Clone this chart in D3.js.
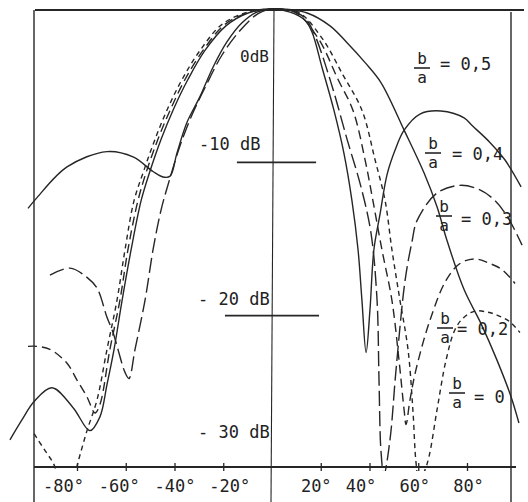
<!DOCTYPE html>
<html>
<head>
<meta charset="utf-8">
<script src="https://cdn.jsdelivr.net/npm/d3@7"></script>
<style>
  body { margin: 0; background: #fff; }
  text { font-family: "DejaVu Sans Mono", monospace; fill: #222; }
</style>
</head>
<body>
<div class="canvas"></div>
<script>
// radiation patterns, [angle in degrees, level in dB]
const ba0 = [[-107.5,-28.1],[-102.6,-26.8],[-97.6,-25.6],[-90.3,-24.7],[-81.6,-26.0],[-74.7,-27.5],
  [-70.6,-26.6],[-67.7,-24.5],[-64.8,-22.2],[-61.5,-19.0],[-57.8,-15.7],[-53.7,-12.5],[-50.1,-10.6],
  [-45.5,-8.5],[-40.6,-6.6],[-34.5,-4.6],[-27.5,-2.7],[-18.9,-1.1],[-9.8,-0.26],[0,0],[7.4,-0.07],
  [14.4,-0.26],[23.8,-1.1],[30.8,-2.2],[38.2,-3.5],[44.7,-4.8],[54.2,-7.9],[62.4,-10.7],[67.7,-12.9],
  [71.8,-15.1],[78.8,-18.3],[85.7,-20.5],[92.3,-22.9],[98.1,-25.3],[101.3,-27.0]];

const ba05 = [[-100.1,-13.0],[-96.4,-12.3],[-84.1,-10.3],[-67.7,-9.3],[-57,-9.65],[-48.8,-10.6],
  [-44.7,-10.96],[-41.8,-10.9],[-39,-9.4],[-34.9,-7.4],[-29.5,-5.7],[-24.2,-3.8],[-18.5,-2.15],
  [-12.3,-0.9],[-6.2,-0.2],[0,0],[7.4,-0.2],[13.5,-0.72],[16.4,-1.5],[20.5,-3.8],[25.4,-6.6],
  [29.5,-9.4],[32.8,-12.5],[35.3,-15.7],[36.9,-19.0],[38.6,-22.4],[40.2,-19.6],[41.8,-15.7],
  [44.3,-13.4],[47.2,-10.8],[50.5,-9.2],[54.2,-7.9],[60.7,-6.85],[69.3,-6.65],[78.8,-7.1],
  [82.1,-7.6],[89.4,-8.7],[95.6,-9.85],[102.2,-11.6]];

const ba04 = [[-91.1,-17.35],[-82.9,-16.9],[-75.9,-17.5],[-71.8,-18.2],[-67.7,-20.1],[-65.2,-21.1],
  [-63.2,-22.2],[-60.3,-23.7],[-58.7,-24.1],[-56.2,-22.2],[-52.1,-19.0],[-48.8,-15.7],[-45.5,-13.1],
  [-41.8,-11.0],[-37.7,-8.9],[-32.8,-6.9],[-27.1,-5.0],[-20.5,-3.0],[-13.1,-1.4],[-5.7,-0.3],[0,0],
  [8.2,-0.13],[13.5,-0.59],[17.2,-1.57],[24.2,-4.8],[30.8,-8.5],[36.5,-11.6],[40.6,-14.6],
  [43.1,-19.0],[43.9,-24.2],[44.7,-28.8],[45.9,-30.4],[48.4,-28.1],[50.9,-23.5],[54.6,-17.7],
  [57.4,-15.2],[59.5,-13.8],[67.7,-12.0],[77.1,-11.5],[85.3,-11.8],[91.5,-12.5],[96.8,-13.6],
  [102.6,-15.4]];

const ba03 = [[-100.1,-22.0],[-96.4,-22.0],[-91.1,-22.2],[-84.1,-23.1],[-80,-24.2],[-75.9,-25.3],
  [-72.6,-26.35],[-70.6,-25.8],[-66.5,-22.2],[-62.4,-19.0],[-59.1,-15.7],[-55,-12.5],[-51.3,-10.5],
  [-46.8,-8.5],[-41.8,-6.6],[-35.7,-4.6],[-28.3,-2.7],[-19.3,-1.0],[-9,-0.2],[0,0],[9.4,-0.2],
  [18.9,-1.9],[27.1,-4.6],[33.2,-6.6],[38.2,-9.85],[41.4,-12.5],[45.1,-15.7],[49.2,-19.0],
  [52.1,-22.9],[54.2,-26.15],[55,-27.1],[56.6,-25.5],[59.1,-23.5],[64.8,-20.3],[71.4,-17.7],
  [77.1,-16.6],[83.3,-16.3],[89.4,-16.6],[94.4,-17.0],[99.7,-17.9]];

const ba02 = [[-97.6,-27.7],[-96.4,-28.0],[-93.1,-28.8],[-89.8,-29.6],[-87,-30.6],[-83.7,-31.0],
  [-80.8,-30.2],[-78.8,-29.1],[-75.9,-27.5],[-71.8,-25.5],[-67.7,-22.2],[-63.6,-19.0],[-60.3,-15.7],
  [-56.6,-12.5],[-52.5,-10.5],[-48,-8.5],[-43.1,-6.6],[-36.9,-4.6],[-29.5,-2.7],[-20.5,-1.0],
  [-9.8,-0.2],[0,0],[10.7,-0.2],[20.5,-1.9],[29.1,-4.3],[36.9,-6.6],[42.3,-9.85],[46.4,-12.5],
  [49.2,-15.7],[52.5,-19.0],[55.8,-22.2],[57.8,-26.15],[59.1,-29.6],[60.3,-30.7],[62.4,-30.2],
  [64.4,-29.2],[67.7,-26.15],[71.4,-22.9],[75.1,-20.9],[78.8,-20.1],[83.3,-19.7],[88.2,-19.76],
  [92.3,-19.96],[97.6,-20.4],[101.7,-21.1]];

const xTicks = [-80, -60, -40, -20, 20, 40, 60, 80];
const dbLabels = ["0dB", "-10 dB", "- 20 dB", "- 30 dB"];
const dbLabelLevels = [-3.46, -9.2, -19.3, -27.98];
const refLevels = [-10, -20];
const ratioValues = ["0,5", "0,4", "0,3", "0,2", "0"];

// layout
const W = 528, H = 502;
const svg = d3.select(".canvas").append("svg")
    .attr("width", W)
    .attr("height", H);

const x = d3.scaleLinear().domain([-80, 80]).range([77, 467]);
const y = d3.scaleLinear().domain([0, -30]).range([9, 469]);
const ink = "#262626";

svg.append("defs").append("clipPath").attr("id", "clip")
  .append("rect").attr("x", 0).attr("y", 0).attr("width", W).attr("height", 471);

// frame
const frame = svg.append("g").attr("stroke", ink).attr("fill", "none");
frame.append("line").attr("x1", 35).attr("x2", 524).attr("y1", 10).attr("y2", 10).attr("stroke-width", 2);
frame.append("line").attr("x1", 34).attr("x2", 34).attr("y1", 10).attr("y2", H).attr("stroke-width", 1.4);
frame.append("line").attr("x1", 511).attr("x2", 511).attr("y1", 12).attr("y2", H).attr("stroke-width", 1.4);
frame.append("line").attr("x1", x(0) + 2).attr("x2", x(0) - 1).attr("y1", 10).attr("y2", H).attr("stroke-width", 1.1);

// reference lines at -10 and -20 dB
const refSpans = [[-14.4, 18.1], [-19.3, 19.3]];
refLevels.forEach((lv, i) => {
  frame.append("line")
    .attr("x1", x(refSpans[i][0])).attr("x2", x(refSpans[i][1]))
    .attr("y1", y(lv)).attr("y2", y(lv))
    .attr("stroke-width", 1.6);
});

// x axis
const xAxis = d3.axisBottom(x)
    .tickValues(xTicks)
    .tickSize(4)
    .tickPadding(10)
    .tickFormat(d => d + "°");
const xAxisGroup = svg.append("g")
    .attr("transform", `translate(0,${467})`)
    .call(xAxis);
xAxisGroup.select(".domain").remove();
xAxisGroup.append("line")
    .attr("x1", 34).attr("x2", 516).attr("y1", 0).attr("y2", 0)
    .attr("stroke", ink).attr("stroke-width", 1.8);
xAxisGroup.selectAll(".tick line").attr("y1", -4).attr("y2", 4).attr("stroke", ink).attr("stroke-width", 1.3);
const tickNudge = [-14, -7, 0, 6, -5, -9, -4, 1];
xAxisGroup.selectAll(".tick text")
    .attr("dx", (d, i) => tickNudge[i])
    .attr("y", 25)
    .attr("dy", 0)
    .style("font-size", "17px")
    .style("font-family", "DejaVu Sans Mono, monospace")
    .attr("fill", ink);

// level labels
const dbStartX = [240, 199, 198, 198];
svg.selectAll("text.db")
  .data(dbLabels)
  .enter().append("text")
    .attr("class", "db")
    .attr("x", (d, i) => dbStartX[i])
    .attr("y", (d, i) => y(dbLabelLevels[i]))
    .style("font-size", (d, i) => i === 0 ? "16px" : "17px")
    .attr("xml:space", "preserve")
    .text(d => d);

// curves
const line = d3.line()
    .x(d => x(d[0]))
    .y(d => y(d[1]))
    .curve(d3.curveCatmullRom.alpha(0.5));

const curves = [
  { data: ba0,  dash: null },
  { data: ba05, dash: null },
  { data: ba04, dash: "15,5" },
  { data: ba03, dash: "9,5" },
  { data: ba02, dash: "5,4" }
];

svg.append("g").attr("clip-path", "url(#clip)")
  .selectAll("path")
  .data(curves)
  .enter().append("path")
    .attr("d", d => line(d.data))
    .attr("fill", "none")
    .attr("stroke", ink)
    .attr("stroke-width", 1.4)
    .attr("stroke-dasharray", d => d.dash);

// b/a labels
const fracX = [422, 433, 444, 445, 457];
const fracBarY = [68, 153, 216, 328, 393];
const eqX = [440, 452, 461, 457, 474];
const eqY = [70, 160, 225, 335, 403];
const labels = svg.append("g");
ratioValues.forEach((v, i) => {
  labels.append("text").attr("x", fracX[i]).attr("y", fracBarY[i] - 4)
    .attr("text-anchor", "middle").style("font-size", "16px").text("b");
  labels.append("line")
    .attr("x1", fracX[i] - 8).attr("x2", fracX[i] + 8)
    .attr("y1", fracBarY[i]).attr("y2", fracBarY[i])
    .attr("stroke", ink).attr("stroke-width", 1.6);
  labels.append("text").attr("x", fracX[i]).attr("y", fracBarY[i] + 15)
    .attr("text-anchor", "middle").style("font-size", "16px").text("a");
  labels.append("text").attr("x", eqX[i]).attr("y", eqY[i])
    .attr("xml:space", "preserve")
    .style("font-size", "17px").text("= " + v);
});
</script>
</body>
</html>
